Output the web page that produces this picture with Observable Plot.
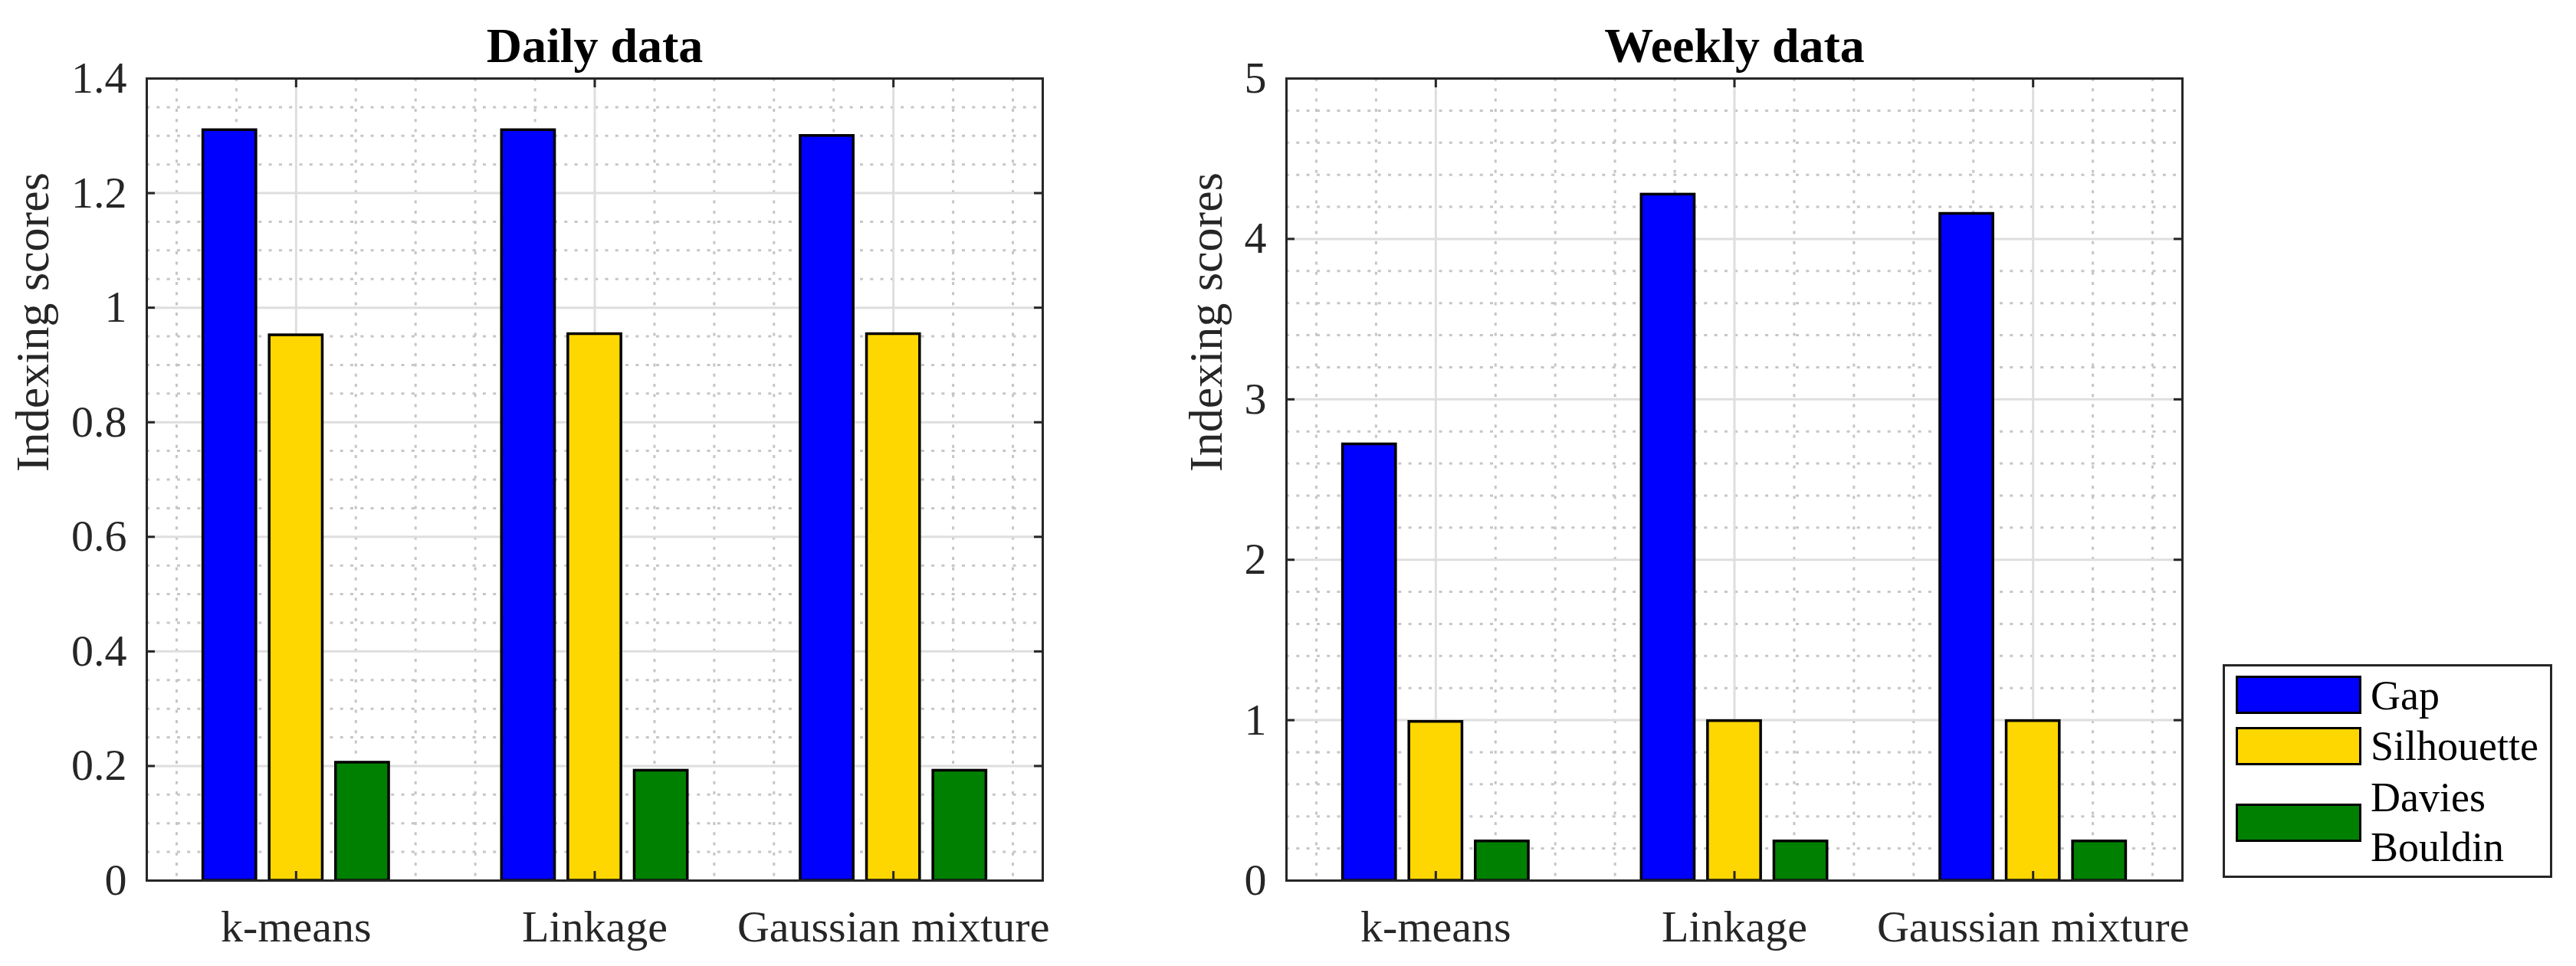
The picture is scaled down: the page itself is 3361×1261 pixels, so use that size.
<!DOCTYPE html>
<html>
<head>
<meta charset="utf-8">
<script src="https://cdn.jsdelivr.net/npm/d3@7"></script>
<script src="https://cdn.jsdelivr.net/npm/@observablehq/plot@0.6"></script>
<style>
  html, body { margin: 0; padding: 0; background: #fff; }
  #root { position: relative; width: 3361px; height: 1261px; overflow: hidden; font-family: "Liberation Serif", "DejaVu Serif", serif; }
  #root svg { position: absolute; top: 0; }
  .legend { position: absolute; left: 2900px; top: 867px; width: 424px; height: 273px; border: 3px solid #262626; background: #fff; }
  .sw { position: absolute; left: 14px; width: 158px; height: 44px; border: 3.5px solid #000; }
  .lab { position: absolute; left: 190px; font-size: 54px; line-height: 65px; color: #000; white-space: nowrap; }
</style>
</head>
<body>
<div id="root"></div>
<script>
// ---------- data ----------
const categories = ["k-means", "Linkage", "Gaussian mixture"];
const seriesNames = ["Gap", "Silhouette", "Davies Bouldin"];
const seriesColors = ["#0000ff", "#ffd700", "#008000"];

const dailyGap = [1.31, 1.31, 1.30];
const dailySilhouette = [0.952, 0.954, 0.954];
const dailyDaviesBouldin = [0.206, 0.192, 0.192];

const weeklyGap = [2.72, 4.277, 4.157];
const weeklySilhouette = [0.99, 0.995, 0.995];
const weeklyDaviesBouldin = [0.245, 0.245, 0.245];

const dailyYTicks = [0, 0.2, 0.4, 0.6, 0.8, 1, 1.2, 1.4];
const weeklyYTicks = [0, 1, 2, 3, 4, 5];
const yLabel = "Indexing scores";
const titles = ["Daily data", "Weekly data"];

// ---------- layout constants ----------
const H = 1261, MT = 102, MB = 112;
const AX = "#262626";

function panel({title, values, yTicks, minorStep, left, width, marginLeft, marginRight, labelDx}) {
  const n = seriesNames.length;
  const groupWidth = Math.min(0.8, n / (n + 1.5));
  const barWidth = groupWidth / n * 0.8;
  const rows = categories.flatMap((c, i) => seriesNames.map((s, j) => {
    const center = (i + 1) + (j - (n - 1) / 2) * groupWidth / n;
    return {category: c, series: s, value: values[j][i], x1: center - barWidth / 2, x2: center + barWidth / 2};
  }));
  const yMax = yTicks[yTicks.length - 1];
  const isMajor = v => yTicks.some(m => Math.abs(m - v) < 1e-9);
  const minorY = d3.range(Math.round(yMax / minorStep) + 1).map(k => +(k * minorStep).toFixed(6)).filter(v => !isMajor(v));
  const xMajor = categories.map((c, i) => i + 1);
  const minorX = d3.range(3, 18).map(k => +(k * 0.2).toFixed(6)).filter(v => Math.abs(v - Math.round(v)) > 1e-9);
  const innerW = width - marginLeft - marginRight;
  const innerH = H - MT - MB;
  const dotted = {stroke: "#c6c6c6", strokeOpacity: 1, strokeWidth: 3, strokeDasharray: "4 9.3"};
  const major = {stroke: "#dedede", strokeOpacity: 1, strokeWidth: 3};

  const svg = Plot.plot({
    width, height: H, marginLeft, marginRight, marginTop: MT, marginBottom: MB,
    style: {fontFamily: "'Liberation Serif', serif", color: AX, background: "transparent", overflow: "visible"},
    x: {domain: [0.5, 3.5]},
    y: {domain: [0, yMax]},
    color: {domain: seriesNames, range: seriesColors},
    marks: [
      Plot.gridY(minorY, dotted),
      Plot.gridX(minorX, dotted),
      Plot.gridY(yTicks, major),
      Plot.gridX(xMajor, major),
      Plot.rectY(rows, {x1: "x1", x2: "x2", y1: 0, y2: "value", fill: "series", stroke: "#000", strokeWidth: 3.5}),
      Plot.frame({stroke: AX, strokeWidth: 3}),
      Plot.tickX(xMajor, {x: d => d, insetTop: innerH - 12, stroke: AX, strokeWidth: 3}),
      Plot.tickX(xMajor, {x: d => d, insetBottom: innerH - 12, stroke: AX, strokeWidth: 3}),
      Plot.tickY(yTicks, {y: d => d, insetRight: innerW - 11, stroke: AX, strokeWidth: 3}),
      Plot.tickY(yTicks, {y: d => d, insetLeft: innerW - 11, stroke: AX, strokeWidth: 3}),
      Plot.axisX({ticks: xMajor, tickFormat: d => categories[d - 1], tickSize: 0, tickPadding: 38, fontSize: 58, label: null, fill: AX}),
      Plot.axisY({ticks: yTicks, tickFormat: d => String(d), tickSize: 0, tickPadding: 26, fontSize: 58, label: null, fill: AX}),
      Plot.text([title], {frameAnchor: "top", dy: -22, lineAnchor: "bottom", fontWeight: "bold", fontSize: 64, fill: "#000"}),
      Plot.text([yLabel], {frameAnchor: "left", dx: labelDx, dy: -10, rotate: -90, lineAnchor: "bottom", fontSize: 62, fill: AX})
    ]
  });
  svg.style.left = left + "px";
  return svg;
}

const root = document.getElementById("root");
root.appendChild(panel({
  title: titles[0], values: [dailyGap, dailySilhouette, dailyDaviesBouldin],
  yTicks: dailyYTicks, minorStep: 0.05, left: 0, width: 1450, marginLeft: 191, marginRight: 1450 - 1360, labelDx: -129
}));
root.appendChild(panel({
  title: titles[1], values: [weeklyGap, weeklySilhouette, weeklyDaviesBouldin],
  yTicks: weeklyYTicks, minorStep: 0.2, left: 1450, width: 1450, marginLeft: 228, marginRight: 1450 - (2847 - 1450), labelDx: -85
}));

// ---------- legend ----------
const legend = document.createElement("div");
legend.className = "legend";
const swatchTops = [12, 79, 179];
const labelTops = [6, 72, 139];
seriesNames.forEach((name, i) => {
  const sw = document.createElement("div");
  sw.className = "sw";
  sw.style.top = swatchTops[i] + "px";
  sw.style.background = seriesColors[i];
  legend.appendChild(sw);
  const lab = document.createElement("div");
  lab.className = "lab";
  lab.style.top = labelTops[i] + "px";
  lab.innerHTML = name.split(" ").join("<br>");
  legend.appendChild(lab);
});
root.appendChild(legend);
</script>
</body>
</html>
